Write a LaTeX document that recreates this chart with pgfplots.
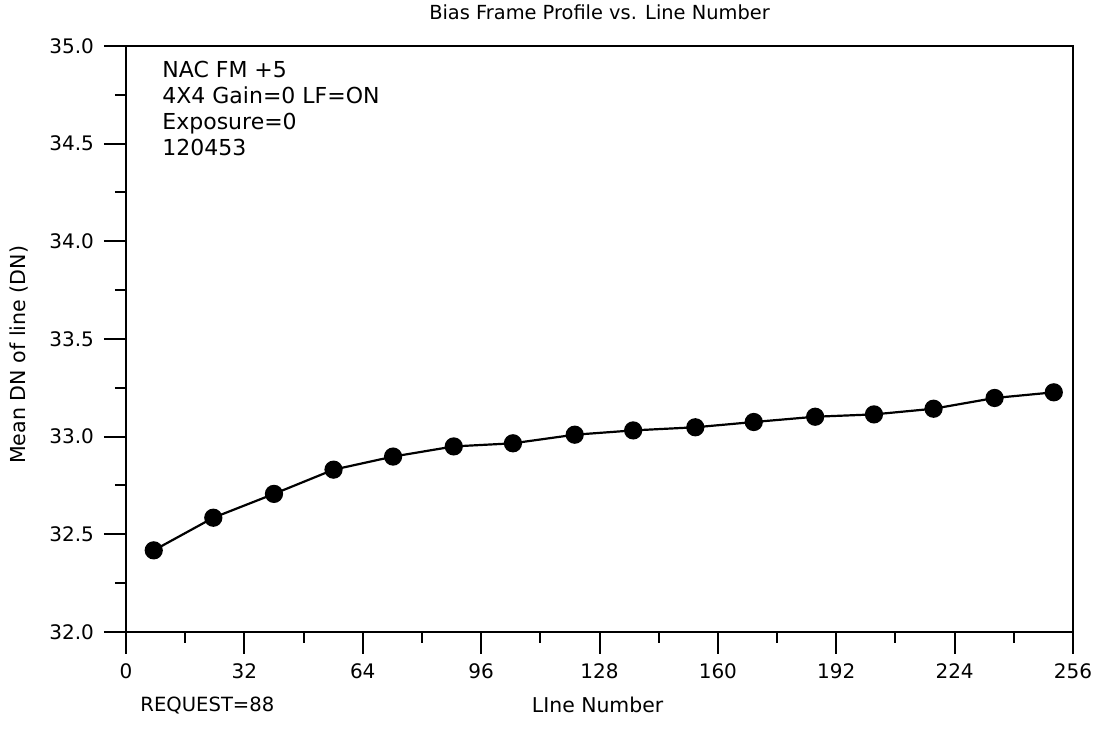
\documentclass[border=0pt]{standalone}
\usepackage{pgfplots}
\pgfplotsset{compat=1.18}
\usepackage{fontspec}
\setmainfont{DejaVu Sans}
\begin{document}
\begin{tikzpicture}
\path[use as bounding box] (-63pt,-55pt) rectangle (494pt,316pt);
\begin{axis}[
  scale only axis, width=473.5pt, height=293pt,
  at={(0,0)}, anchor=south west,
  xmin=0, xmax=256, ymin=32, ymax=35,
  axis line style={line width=1pt},
  tick pos=left, tick align=outside,
  xtick={0,32,...,256}, ytick={32,32.5,...,35},
  minor x tick num=1, minor y tick num=1,
  major tick length=11pt, minor tick length=5.5pt,
  every tick/.style={black, line width=1pt},
  yticklabel style={xshift=-1.5pt, /pgf/number format/.cd, fixed, fixed zerofill, precision=1},
  xticklabel style={yshift=-1.5pt},
  /pgf/number format/assume math mode=true,
  tick label style={font=\fontsize{10}{12}\selectfont},
  clip=false,
]
\addplot[black, line width=1.1pt, mark=*, mark size=4pt] coordinates {
(7.5,32.418)(23.6,32.585)(40.0,32.707)(56.1,32.831)(72.2,32.898)(88.6,32.950)
(104.6,32.966)(121.3,33.010)(137.1,33.032)(153.9,33.048)(169.7,33.075)
(186.3,33.102)(202.2,33.114)(218.3,33.143)(234.8,33.198)(250.8,33.227)
};
\node[anchor=center, inner sep=0, font=\fontsize{9.7}{11}\selectfont, yshift=17pt] at (rel axis cs:0.5,1) {Bias Frame Profile vs. Line Number};
\node[anchor=center, inner sep=0, font=\fontsize{10.2}{12}\selectfont, yshift=-36.5pt] at (rel axis cs:0.498,0) {LIne Number};
\node[anchor=west, inner sep=0, font=\fontsize{9.8}{12}\selectfont, xshift=7pt, yshift=-36.5pt] at (rel axis cs:0,0) {REQUEST=88};
\node[anchor=center, inner sep=0, xshift=-53.5pt, rotate=90, font=\fontsize{10.3}{12}\selectfont] at (rel axis cs:0,0.473) {Mean DN of line (DN)};
\node[anchor=north west, inner sep=0, align=left, font=\fontsize{11}{13}\selectfont, xshift=18pt, yshift=-7.5pt] at (rel axis cs:0,1) {NAC FM +5\\4X4 Gain=0 LF=ON\\Exposure=0\\120453};
\end{axis}
\end{tikzpicture}
\end{document}
